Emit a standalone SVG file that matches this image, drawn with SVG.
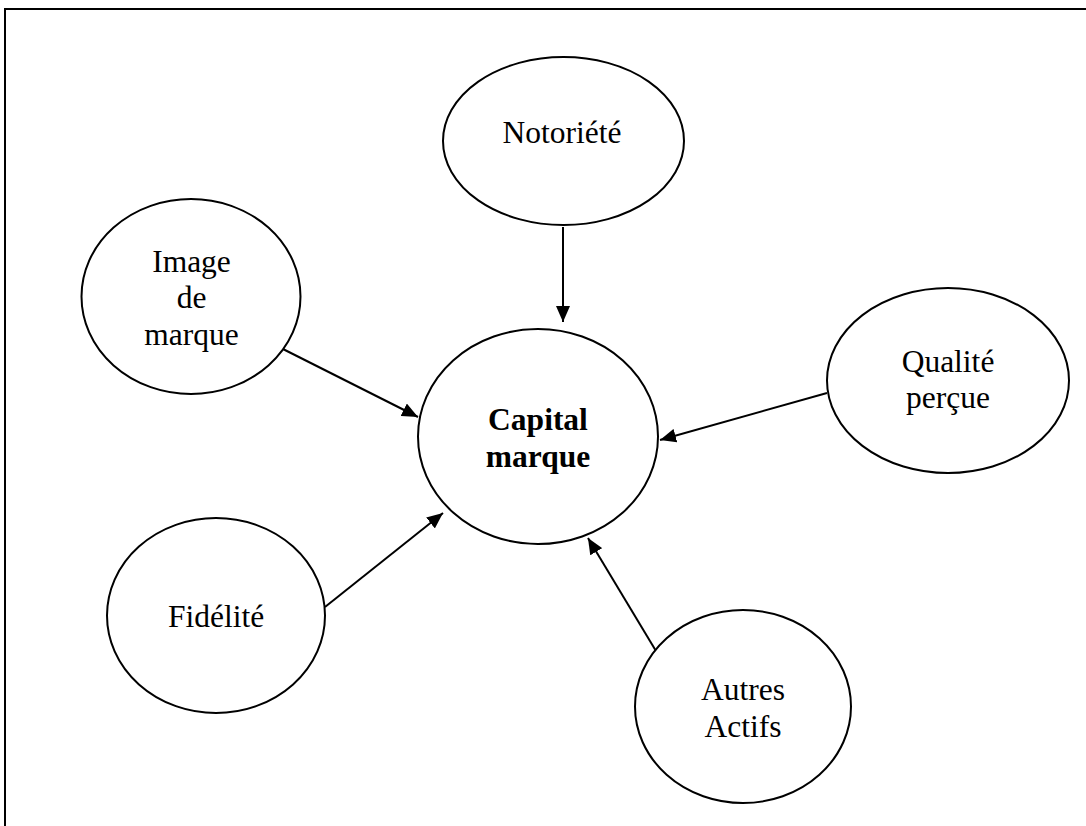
<svg xmlns="http://www.w3.org/2000/svg" width="1086" height="826" viewBox="0 0 1086 826">
  <style>
    .node { fill: #ffffff; stroke: #000000; stroke-width: 2; }
    .lbl { font-family: "Liberation Serif", "Times New Roman", serif; font-size: 31.5px; fill: #000000; text-anchor: middle; }
    .bold { font-weight: bold; }
    .conn { stroke: #000000; stroke-width: 2; fill: none; marker-end: url(#arrow); }
  </style>
  <defs>
    <marker id="arrow" markerUnits="userSpaceOnUse" markerWidth="16" markerHeight="14" refX="16" refY="7" orient="auto">
      <path d="M0,0 L16,7 L0,14 z" fill="#000000"/>
    </marker>
  </defs>
  <rect x="0" y="0" width="1086" height="826" fill="#ffffff"/>
  <path d="M5,826 V9 H1086" fill="none" stroke="#000000" stroke-width="2"/>

  <g id="connectors">
    <line class="conn" x1="563" y1="227" x2="563" y2="322"/>
    <line class="conn" x1="275" y1="345" x2="418" y2="417"/>
    <line class="conn" x1="827" y1="393" x2="660" y2="440"/>
    <line class="conn" x1="325" y1="607" x2="443" y2="513"/>
    <line class="conn" x1="659" y1="656" x2="588" y2="538"/>
  </g>

  <g id="notoriete">
    <ellipse class="node" cx="563.5" cy="141" rx="120.5" ry="84"/>
    <text class="lbl" x="562" y="143">Notoriété</text>
  </g>

  <g id="image-de-marque">
    <ellipse class="node" cx="191" cy="296.5" rx="109.5" ry="97.5"/>
    <text class="lbl" x="191.5" y="271.5">Image</text>
    <text class="lbl" x="191.5" y="308">de</text>
    <text class="lbl" x="191.5" y="345">marque</text>
  </g>

  <g id="capital-marque">
    <ellipse class="node" cx="538" cy="436.5" rx="120" ry="107.5"/>
    <text class="lbl bold" x="538" y="430">Capital</text>
    <text class="lbl bold" x="538" y="466.5">marque</text>
  </g>

  <g id="qualite-percue">
    <ellipse class="node" cx="948" cy="380.5" rx="121" ry="92.5"/>
    <text class="lbl" x="948" y="371.5">Qualité</text>
    <text class="lbl" x="948" y="408">perçue</text>
  </g>

  <g id="fidelite">
    <ellipse class="node" cx="216" cy="615.5" rx="109" ry="97.5"/>
    <text class="lbl" x="216" y="626.5">Fidélité</text>
  </g>

  <g id="autres-actifs">
    <ellipse class="node" cx="743" cy="706.5" rx="108" ry="96.5"/>
    <text class="lbl" x="743" y="700">Autres</text>
    <text class="lbl" x="743" y="736.5">Actifs</text>
  </g>
</svg>
